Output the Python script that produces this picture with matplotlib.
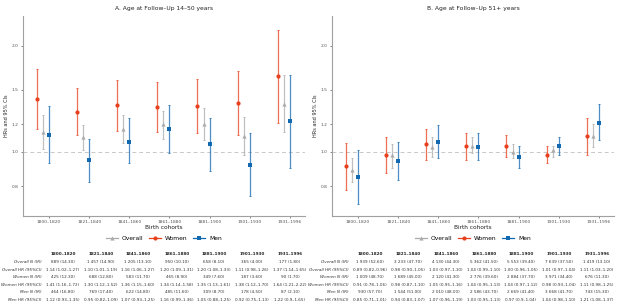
import matplotlib
matplotlib.use("Agg")
import matplotlib.pyplot as plt
import numpy as np

cohorts = ["1800\u20131820", "1821\u20131840", "1841\u20131860", "1861\u20131880",
           "1881\u20131900", "1901\u20131930", "1931\u20131996"]

# Panel A: follow-up 14-50 years
a_over_hr = [1.14, 1.10, 1.16, 1.20, 1.20, 1.11, 1.37]
a_over_lo = [1.02, 1.01, 1.06, 1.09, 1.08, 0.98, 1.14]
a_over_hi = [1.27, 1.19, 1.27, 1.31, 1.33, 1.26, 1.65]
a_wom_hr = [1.41, 1.30, 1.36, 1.34, 1.35, 1.38, 1.64]
a_wom_lo = [1.16, 1.12, 1.15, 1.14, 1.13, 1.12, 1.21]
a_wom_hi = [1.72, 1.52, 1.60, 1.58, 1.61, 1.70, 2.22]
a_men_hr = [1.12, 0.95, 1.07, 1.16, 1.05, 0.92, 1.22]
a_men_lo = [0.93, 0.82, 0.93, 0.99, 0.88, 0.75, 0.90]
a_men_hi = [1.35, 1.09, 1.25, 1.36, 1.25, 1.13, 1.65]
a_over_n = ["889 (14.30)", "1 457 (14.90)", "1 205 (13.10)", "950 (10.10)", "658 (8.10)", "365 (4.00)", "177 (1.80)"]
a_wom_n = ["425 (12.30)", "688 (12.80)", "583 (11.70)", "465 (8.90)", "349 (7.60)", "187 (3.60)", "90 (1.70)"]
a_men_n = ["464 (16.80)", "769 (17.40)", "622 (14.80)", "485 (11.60)", "309 (8.70)", "178 (4.50)", "87 (2.10)"]
a_over_ci = ["1.14 (1.02\u20131.27)", "1.10 (1.01\u20131.19)", "1.16 (1.06\u20131.27)", "1.20 (1.09\u20131.31)",
             "1.20 (1.08\u20131.33)", "1.11 (0.98\u20131.26)", "1.37 (1.14\u20131.65)"]
a_wom_ci = ["1.41 (1.16\u20131.72)", "1.30 (1.12\u20131.52)", "1.36 (1.15\u20131.60)", "1.34 (1.14\u20131.58)",
            "1.35 (1.13\u20131.61)", "1.38 (1.12\u20131.70)", "1.64 (1.21\u20132.22)"]
a_men_ci = ["1.12 (0.93\u20131.35)", "0.95 (0.82\u20131.09)", "1.07 (0.93\u20131.25)", "1.16 (0.99\u20131.36)",
            "1.05 (0.88\u20131.25)", "0.92 (0.75\u20131.13)", "1.22 (0.9\u20131.65)"]

# Panel B: follow-up 51+ years
b_over_hr = [0.89, 0.98, 1.03, 1.04, 1.00, 1.01, 1.11]
b_over_lo = [0.82, 0.90, 0.97, 0.99, 0.96, 0.97, 1.03]
b_over_hi = [0.96, 1.05, 1.10, 1.10, 1.05, 1.04, 1.20]
b_wom_hr = [0.91, 0.98, 1.05, 1.04, 1.04, 0.98, 1.11]
b_wom_lo = [0.78, 0.87, 0.95, 0.95, 0.97, 0.93, 0.98]
b_wom_hi = [1.06, 1.10, 1.16, 1.13, 1.12, 1.04, 1.25]
b_men_hr = [0.85, 0.94, 1.07, 1.03, 0.97, 1.04, 1.21]
b_men_lo = [0.71, 0.83, 0.96, 0.95, 0.90, 0.98, 1.08]
b_men_hi = [1.01, 1.07, 1.19, 1.13, 1.04, 1.10, 1.37]
b_over_n = ["1 939 (52.60)", "3 233 (47.70)", "4 130 (44.30)", "5 362 (41.50)", "5 553 (39.40)", "7 639 (37.50)", "1 419 (13.10)"]
b_wom_n = ["1 009 (48.70)", "1 689 (45.00)", "2 120 (41.30)", "2 776 (39.60)", "2 884 (37.70)", "3 971 (34.40)", "676 (11.30)"]
b_men_n = ["930 (57.70)", "1 544 (51.00)", "2 010 (48.00)", "2 586 (43.70)", "2 669 (41.40)", "3 668 (41.70)", "743 (15.30)"]
b_over_ci = ["0.89 (0.82\u20130.96)", "0.98 (0.90\u20131.05)", "1.03 (0.97\u20131.10)", "1.04 (0.99\u20131.10)",
             "1.00 (0.96\u20131.05)", "1.01 (0.97\u20131.04)", "1.11 (1.03\u20131.20)"]
b_wom_ci = ["0.91 (0.78\u20131.06)", "0.98 (0.87\u20131.10)", "1.05 (0.95\u20131.16)", "1.04 (0.95\u20131.13)",
            "1.04 (0.97\u20131.12)", "0.98 (0.93\u20131.04)", "1.11 (0.98\u20131.25)"]
b_men_ci = ["0.85 (0.71\u20131.01)", "0.94 (0.83\u20131.07)", "1.07 (0.96\u20131.19)", "1.03 (0.95\u20131.13)",
            "0.97 (0.9\u20131.04)", "1.04 (0.98\u20131.10)", "1.21 (1.08\u20131.37)"]

row_labels = ["Overall N (IR)", "Overall HR (95%CI)", "Women N (IR)", "Women HR (95%CI)", "Men N (IR)", "Men HR (95%CI)"]
y_ticks = [0.8, 1.0, 1.2, 1.5, 2.0]

c_w = "#E8401C"
c_o = "#ABABAB"
c_m = "#1369B0"

W, H = 617, 308
fig = plt.figure(figsize=(W / 100, H / 100), dpi=100)
fig.patch.set_facecolor("white")
plt.rcParams["font.family"] = ["DejaVu Sans"]


def panel(left_px, title, ov, wo, me, tabdata, table_left_px, col_px):
    ax = fig.add_axes([left_px / W, 1 - 216 / H, 282 / W, 200 / H])
    x = np.arange(1, len(cohorts) + 1)
    series = [(wo, c_w, "o", -0.30, "Women"), (ov, c_o, "^", -0.15, "Overall"), (me, c_m, "s", 0.0, "Men")]
    for (hr, lo, hi), col, mk, off, lab in series:
        hr = np.array(hr); lo = np.array(lo); hi = np.array(hi)
        ax.errorbar(x + off, hr, yerr=[hr - lo, hi - hr], fmt="none", ecolor=col, alpha=0.75,
                    elinewidth=0.9, capsize=0.8, capthick=0.7, zorder=2)
        ax.plot(x + off, hr, linestyle="none", marker=mk, color=col, markersize=3.0,
                markeredgewidth=0, zorder=3, label=lab)
    ax.axhline(1.0, color="#C8C8C8", linestyle=(0, (4, 3)), linewidth=0.7, zorder=1)
    ax.set_yscale("log")
    ax.set_ylim(0.658, 2.43)
    ax.set_yticks(y_ticks)
    ax.set_yticklabels(["%.1f" % v for v in y_ticks])
    ax.minorticks_off()
    ax.set_xlim(0.35, 7.38)
    ax.set_xticks(x)
    ax.set_xticklabels(cohorts)
    for s in ["top", "right"]:
        ax.spines[s].set_visible(False)
    for s in ["left", "bottom"]:
        ax.spines[s].set_color("#A0A0A0")
        ax.spines[s].set_linewidth(0.8)
    ax.tick_params(axis="both", labelsize=3.2, colors="#555555", length=1.5, width=0.5, pad=1.5)
    ax.set_ylabel("HRs and 95% CIs", fontsize=3.6, color="#222222", labelpad=2)
    ax.set_xlabel("Birth cohorts", fontsize=4.2, color="#222222", labelpad=0.5)
    ax.set_title(title, fontsize=4.3, color="#222222", pad=4)
    h, l = ax.get_legend_handles_labels()
    order = [1, 0, 2]
    handles = []
    for i in order:
        hh = h[i]
        hl = plt.Line2D([], [], color=hh.get_color(), marker=hh.get_marker(), markersize=3,
                        linewidth=0.9, markeredgewidth=0)
        handles.append(hl)
    ax.legend(handles, [l[i] for i in order], loc="center", bbox_to_anchor=(0.5, -0.11),
              ncol=3, frameon=False, fontsize=4.3, handlelength=2.0, columnspacing=1.0,
              handletextpad=0.6, borderaxespad=0, borderpad=0)
    # table
    ys = [254.3, 262.3, 269.8, 277.3, 284.8, 292.3, 299.8]
    for j, c in enumerate(cohorts):
        fig.text(col_px[j] / W, 1 - ys[0] / H, c, ha="center", va="center", fontsize=3.0,
                 fontweight="bold", color="#222222")
    for i, lab in enumerate(row_labels):
        fig.text(table_left_px / W, 1 - ys[i + 1] / H, lab, ha="right", va="center",
                 fontsize=3.0, style="italic", color="#333333")
        for j in range(len(cohorts)):
            fig.text(col_px[j] / W, 1 - ys[i + 1] / H, tabdata[i][j], ha="center", va="center",
                     fontsize=3.0, color="#333333")
    return ax


cols_a = [63, 101, 138, 177, 214, 252, 290]
cols_b = [370, 408, 446, 484, 521, 559, 597]
panel(23, "A. Age at Follow\u2013Up 14\u201350 years",
      (a_over_hr, a_over_lo, a_over_hi), (a_wom_hr, a_wom_lo, a_wom_hi), (a_men_hr, a_men_lo, a_men_hi),
      [a_over_n, a_over_ci, a_wom_n, a_wom_ci, a_men_n, a_men_ci], 42, cols_a)
panel(332, "B. Age at Follow\u2013Up 51+ years",
      (b_over_hr, b_over_lo, b_over_hi), (b_wom_hr, b_wom_lo, b_wom_hi), (b_men_hr, b_men_lo, b_men_hi),
      [b_over_n, b_over_ci, b_wom_n, b_wom_ci, b_men_n, b_men_ci], 349, cols_b)

fig.savefig("out.png", dpi=100, facecolor="white")
